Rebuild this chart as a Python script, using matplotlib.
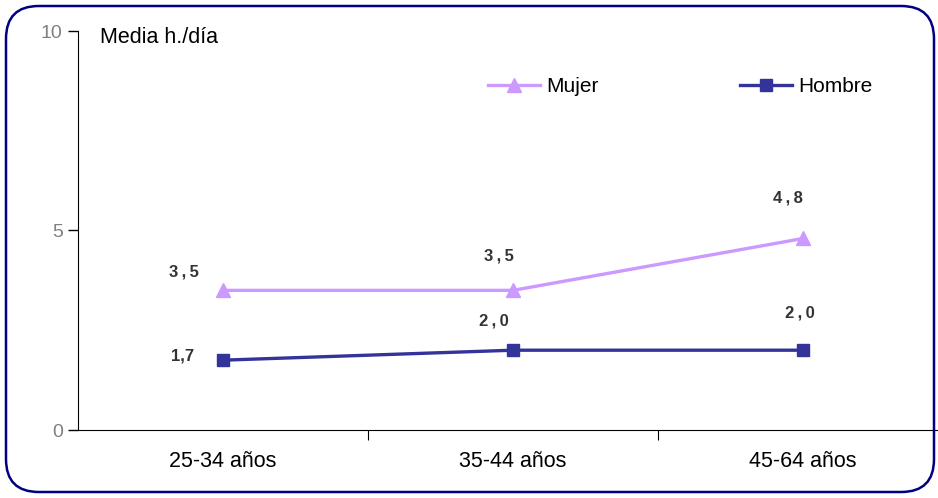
import matplotlib.pyplot as plt
from matplotlib.patches import FancyBboxPatch

plt.rcParams['font.family'] = ['Liberation Sans', 'DejaVu Sans']

# data
categorias = ['25-34 años', '35-44 años', '45-64 años']
mujer = [3.5, 3.5, 4.8]
hombre = [1.75, 2.0, 2.0]
etiq_mujer = ['3\u2009,\u20095', '3\u2009,\u20095', '4\u2009,\u20098']
etiq_hombre = ['1,7', '2\u2009,\u20090', '2\u2009,\u20090']

fig = plt.figure(figsize=(9.38, 4.98), dpi=100)
ax = fig.add_axes([78 / 938, 68 / 498, 870 / 938, 399 / 498])

x = list(range(len(categorias)))
ax.plot(x, mujer, color='#CC99FF', lw=2.4, marker='^', ms=9.5, label='Mujer')
ax.plot(x, hombre, color='#333399', lw=2.4, marker='s', ms=8, label='Hombre')

# data labels (offsets in points)
off_m = [(-28, 13), (-10, 25), (-11, 29)]
off_h = [(-29, 3), (-14, 21), (-2, 27)]
for i in x:
    ax.annotate(etiq_mujer[i], (i, mujer[i]), xytext=off_m[i], textcoords='offset points',
                ha='center', va='center', fontsize=12, fontweight='bold', color='#333333')
    ax.annotate(etiq_hombre[i], (i, hombre[i]), xytext=off_h[i], textcoords='offset points',
                ha='center', va='center', fontsize=12, fontweight='bold', color='#333333')

ax.set_xlim(-0.5, 2.5)
ax.set_ylim(0, 10)
ax.set_yticks([0, 5, 10])
ax.tick_params(axis='y', labelcolor='#808080', labelsize=14, length=7, width=1, color='black', pad=4)
ax.set_xticks([0.5, 1.5, 2.5])
ax.set_xticklabels([])
ax.tick_params(axis='x', which='major', length=7, color='black')
ax.set_xticks(x, minor=True)
ax.set_xticklabels(categorias, minor=True, fontsize=15.5)
ax.tick_params(axis='x', which='minor', length=0, pad=15)
for s in ['top', 'right']:
    ax.spines[s].set_visible(False)

ax.text(0.025, 1.011, 'Media h./día', transform=ax.transAxes, fontsize=15.5, va='top')

ax.legend(loc='center left', bbox_to_anchor=(488 / 938, 1 - 87 / 498), bbox_transform=fig.transFigure,
          ncol=2, frameon=False, borderpad=0, borderaxespad=0,
          handlelength=2.5, handletextpad=0.3, columnspacing=6.8, fontsize=15)

borde = FancyBboxPatch((6 / 938, 6 / 498), 928 / 938, 486 / 498,
                       boxstyle='round,pad=0,rounding_size=0.035', transform=fig.transFigure,
                       fill=False, edgecolor='#000080', lw=1.8, mutation_aspect=938 / 498)
fig.patches.append(borde)

fig.savefig('out.png', dpi=100)
